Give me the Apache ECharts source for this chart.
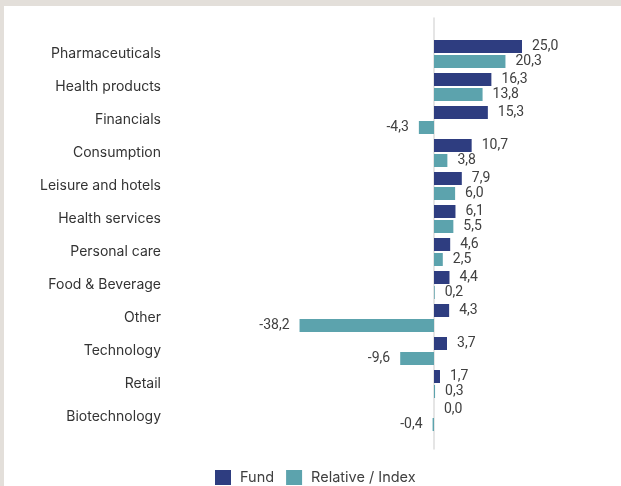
<!DOCTYPE html>
<html>
<head>
<meta charset="utf-8">
<script src="https://cdn.jsdelivr.net/npm/echarts@6/dist/echarts.min.js"></script>
<style>
  html, body { margin: 0; padding: 0; background: #e3dfda; }
  #panel { position: absolute; left: 4px; top: 6px; width: 617px; height: 480px; background: #ffffff; }
  #chart { position: absolute; left: 0; top: 0; width: 621px; height: 486px; }
</style>
</head>
<body>
<div id="panel"></div>
<div id="chart"></div>
<script>
const categories = ['Pharmaceuticals', 'Health products', 'Financials', 'Consumption', 'Leisure and hotels',
  'Health services', 'Personal care', 'Food & Beverage', 'Other', 'Technology', 'Retail', 'Biotechnology'];
const fundValues = [25.0, 16.3, 15.3, 10.7, 7.9, 6.1, 4.6, 4.4, 4.3, 3.7, 1.7, 0.0];
const relativeValues = [20.3, 13.8, -4.3, 3.8, 6.0, 5.5, 2.5, 0.2, -38.2, -9.6, 0.3, -0.4];
const seriesNames = ['Fund', 'Relative / Index'];
const colors = ['#2e3d80', '#5ca3ad'];

const fmt = v => v.toFixed(1).replace('.', ',');
const toItems = arr => arr.map(v => ({ value: v, label: { position: v < 0 ? 'left' : 'right' } }));

const chart = echarts.init(document.getElementById('chart'), null, { renderer: 'canvas' });
const labelStyle = {
  show: true, distance: 10, color: '#404040', fontFamily: 'Roboto', fontSize: 14,
  formatter: p => fmt(p.value)
};
chart.setOption({
  animation: false,
  backgroundColor: 'transparent',
  color: colors,
  legend: {
    bottom: -4, left: 210, itemWidth: 16, itemHeight: 15, itemGap: 12,
    icon: 'rect',
    textStyle: { fontFamily: 'Inter', fontSize: 14.5, color: '#404040', padding: [0, 0, 0, 4] },
    data: seriesNames
  },
  grid: [
    { left: 170, right: 28.6, top: 37.5, bottom: 52.5 },
    { left: 170, right: 28.6, top: 18, bottom: 37 }
  ],
  xAxis: [
    { type: 'value', min: -75, max: 45, show: false, gridIndex: 0 },
    { type: 'value', min: -75, max: 45, show: false, gridIndex: 1 }
  ],
  yAxis: [
    {
      type: 'category', data: categories, inverse: true, gridIndex: 0,
      axisLine: { show: false }, axisTick: { show: false }, splitLine: { show: false },
      axisLabel: { margin: 9, color: '#333333', fontFamily: 'Inter', fontSize: 14 }
    },
    {
      type: 'value', min: 0, max: 1, gridIndex: 1,
      axisLine: { show: true, onZero: true, lineStyle: { color: '#dcdcdc', width: 1.5 } },
      axisTick: { show: false }, axisLabel: { show: false }, splitLine: { show: false }
    }
  ],
  series: [
    {
      name: seriesNames[0], type: 'bar', xAxisIndex: 0, yAxisIndex: 0,
      data: toItems(fundValues), barWidth: 13, barGap: '15%',
      itemStyle: { color: colors[0] }, label: labelStyle
    },
    {
      name: seriesNames[1], type: 'bar', xAxisIndex: 0, yAxisIndex: 0,
      data: toItems(relativeValues), barWidth: 13, barGap: '15%',
      itemStyle: { color: colors[1] }, label: labelStyle
    }
  ]
});
</script>
</body>
</html>
